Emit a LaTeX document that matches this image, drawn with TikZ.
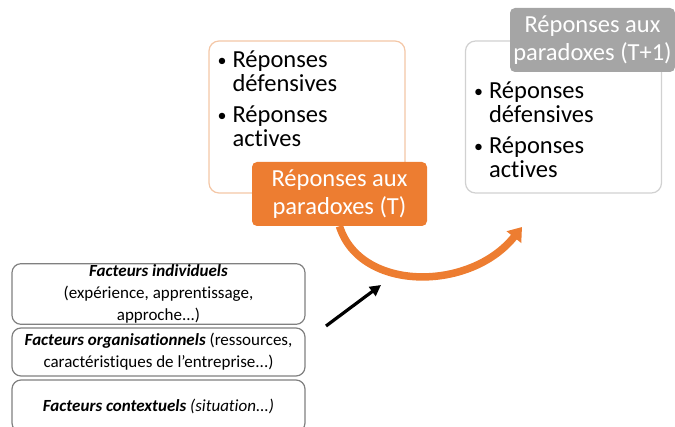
\documentclass[tikz,border=0pt]{standalone}
\usepackage{fontspec}
\setmainfont{Carlito}[Ligatures=NoCommon]
\usetikzlibrary{arrows.meta, positioning}
\definecolor{paraorange}{HTML}{ED7D31}
\definecolor{paratan}{HTML}{F4C7A6}
\definecolor{paragray}{HTML}{A5A5A5}
\tikzset{
	bigtext/.style={font=\fontsize{24.5}{28}\selectfont},
	smalltext/.style={font=\fontsize{17}{22}\selectfont},
	respbox/.style={draw, line width=1.2pt, rounded corners=10pt, fill=white, minimum width=196pt, minimum height=152pt},
	labelbox/.style={rounded corners=5pt, text=white, align=center, bigtext, minimum height=64pt, inner sep=2pt},
	factorbox/.style={draw=black!50, line width=1.2pt, rounded corners=9pt, minimum width=293pt, align=center, smalltext, inner sep=1pt}
}
\newcommand{\bulletlist}{%
  \makebox[15pt][l]{\raisebox{1pt}{\fontsize{18}{18}\selectfont\textbullet}}Réponses\\[-4pt]\hspace{15pt}défensives\\[3pt]
  \makebox[15pt][l]{\raisebox{1pt}{\fontsize{18}{18}\selectfont\textbullet}}Réponses\\[-4pt]\hspace{15pt}actives}

\begin{document}
\begin{tikzpicture}[x=1pt, y=-1pt]
      \useasboundingbox (0,0) rectangle (675,427);
      % responses at T and T+1
      \node[respbox, draw=paratan] (respT) at (307,117) {};
      \node[bigtext, align=left, anchor=north west, inner sep=0pt] (listT) at ([xshift=9pt, yshift=-10pt]respT.north west) {\bulletlist};
      \node[labelbox, fill=paraorange, minimum width=175pt] (labT) at (339.5,194) {Réponses aux\\paradoxes (T)};

      \node[respbox, draw=black!18] (respN) at (563.5,117) {};
      \node[bigtext, align=left, anchor=north west, inner sep=0pt] (listN) at ([xshift=9pt, yshift=-41pt]respN.north west) {\bulletlist};
      \node[labelbox, fill=paragray, minimum width=165pt] (labN) at (592.5,40) {Réponses aux\\paradoxes (T+1)};

      % evolution from T to T+1
      \coordinate (arcend) at (522,227);
      \draw[paraorange, line width=7.5pt, -{Triangle[length=13pt, width=18pt]}] (labT.south) .. controls (360,292) and (470,292) .. (arcend);

      % factors
      \node[factorbox, minimum height=58pt] (indiv) at (158.5,294) {\textbf{\textit{Facteurs individuels}}\\(expérience, apprentissage,\\approche...)};
      \node[factorbox, minimum height=48pt] (orga) at (158.5,352) {\textbf{\textit{Facteurs organisationnels}} (ressources,\\caractéristiques de l’entreprise...)};
      \node[factorbox, minimum height=52pt] (ctx) at (158.5,406) {\textbf{\textit{Facteurs contextuels}} \textit{(situation...)}};

      \coordinate (influ) at (326,326);
      \coordinate (influend) at (381,285);
      \draw[line width=3.2pt, -{Triangle[length=11pt, width=11pt]}] (influ) -- (influend);
    \end{tikzpicture}
\end{document}
